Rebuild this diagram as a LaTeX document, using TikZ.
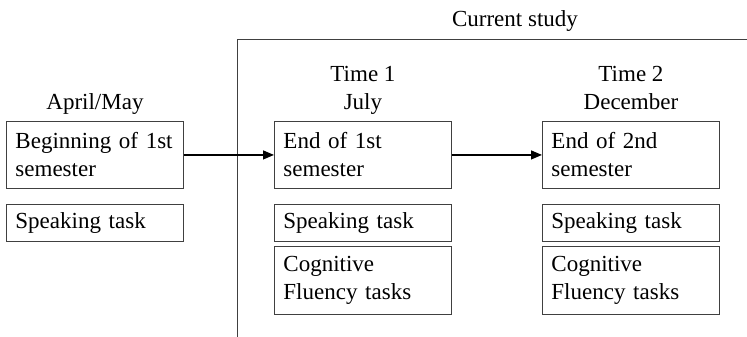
\documentclass[tikz,border=0pt]{standalone}
\usepackage{fontspec}
\setmainfont{Liberation Serif}
\usetikzlibrary{positioning,arrows.meta}

\begin{document}
\begin{tikzpicture}[x=1pt,y=-1pt,
  font=\fontsize{23}{28}\selectfont,
  stage/.style={draw=black!75,line width=0.9pt,text width=159pt,
    inner xsep=9pt,inner ysep=0pt,align=left,anchor=north west},
  tall/.style={stage,minimum height=67pt},
  short/.style={stage,minimum height=37pt},
  when/.style={align=center,inner sep=2pt},
  link/.style={line width=1.3pt,-{Triangle[length=11pt,width=9pt]}}]
  \useasboundingbox (0,0) rectangle (747,337);

  % frame of the current study
  \coordinate (foot) at (237,337);
  \coordinate (corner) at (237,39);
  \coordinate (edge) at (747,39);
  \draw[black!75,line width=0.9pt] (foot) -- (corner) -- (edge);
  \node[anchor=base] (study) at (515,27) {Current study};

  % before
  \node[tall] (begin) at (6,121) {Beginning of 1st\\semester};
  \node[short,below=15pt of begin] (speak0) {Speaking task};
  \node[when,above=1pt of begin] (may) {April/May\strut};

  % time 1
  \node[tall] (end1) at (274,121) {End of 1st\\semester};
  \node[short,below=15pt of end1] (speak1) {Speaking task};
  \node[tall,below=4pt of speak1,minimum height=68pt] (cog1) {Cognitive\\Fluency tasks};
  \node[when,above=1pt of end1] (t1) {Time 1\\July\strut};

  % time 2
  \node[tall] (end2) at (542,121) {End of 2nd\\semester};
  \node[short,below=15pt of end2] (speak2) {Speaking task};
  \node[tall,below=4pt of speak2,minimum height=68pt] (cog2) {Cognitive\\Fluency tasks};
  \node[when,above=1pt of end2] (t2) {Time 2\\December\strut};

  \draw[link] (begin.east) -- (end1.west);
  \draw[link] (end1.east) -- (end2.west);
\end{tikzpicture}
\end{document}
